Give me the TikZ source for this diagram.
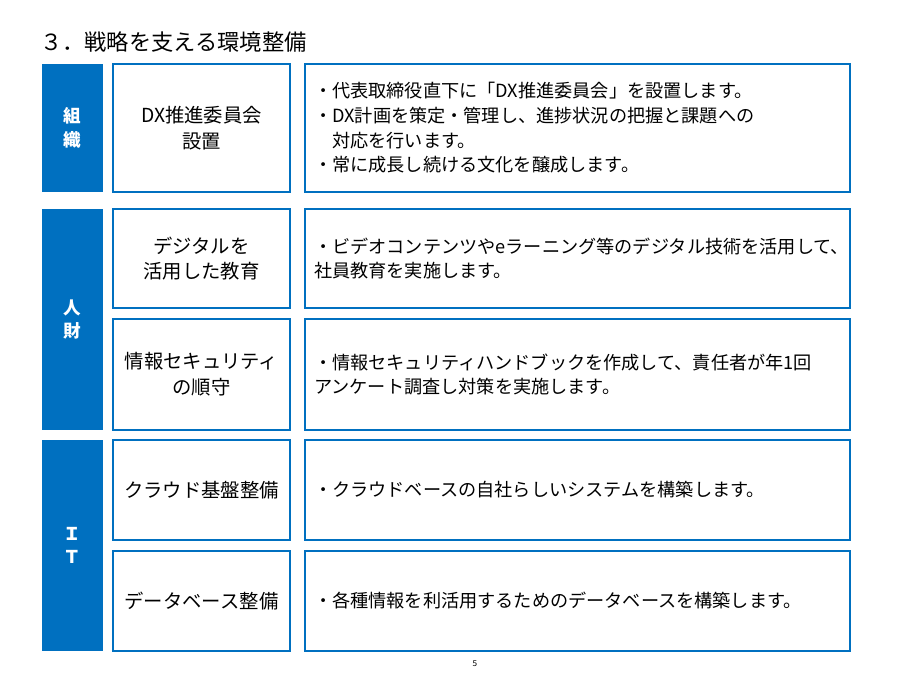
\documentclass[tikz,border=0pt]{standalone}
\usepackage{fontspec}
\setmainfont{Noto Sans CJK JP}
\definecolor{dxblue}{HTML}{0070C0}
\begin{document}
\begin{tikzpicture}[x=0.03cm,y=-0.03cm,
  pillar/.style={fill=dxblue,draw=none,text=white,font=\bfseries\fontsize{15}{20}\selectfont,align=center},
  itembox/.style={draw=dxblue,line width=1.2pt,align=center,font=\fontsize{16.5}{22}\selectfont},
  detailbox/.style={draw=dxblue,line width=1.2pt,align=left,font=\fontsize{15}{20}\selectfont,inner sep=6pt}]
        \useasboundingbox (0,0) rectangle (900,675);
        \node (Title) at (36,42) [anchor=west,font=\fontsize{19}{22}\selectfont] {３．戦略を支える環境整備};

        \node (Porg) at (72.5,128)  [pillar,minimum width=61*0.03cm,minimum height=128*0.03cm] {組\\織};
        \node (Phr)  at (72.5,319.5)[pillar,minimum width=61*0.03cm,minimum height=221*0.03cm] {人\\財};
        \node (Pit)  at (72.5,545.5)[pillar,minimum width=61*0.03cm,minimum height=211*0.03cm] {Ｉ\\Ｔ};

        \node (Iorg)  at (201.5,128)  [itembox,minimum width=177*0.03cm,minimum height=128*0.03cm] {DX推進委員会\\設置};
        \node (Iedu)  at (201.5,258.5)[itembox,minimum width=177*0.03cm,minimum height=99*0.03cm] {デジタルを\\活用した教育};
        \node (Isec)  at (201.5,374.5)[itembox,minimum width=177*0.03cm,minimum height=111*0.03cm] {情報セキュリティ\\の順守};
        \node (Icld)  at (201.5,490)  [itembox,minimum width=177*0.03cm,minimum height=100*0.03cm] {クラウド基盤整備};
        \node (Idb)   at (201.5,601)  [itembox,minimum width=177*0.03cm,minimum height=100*0.03cm] {データベース整備};

        \draw[itembox] (305,64) rectangle (850,192);
        \draw[itembox] (305,209) rectangle (850,308);
        \draw[itembox] (305,319) rectangle (850,430);
        \draw[itembox] (305,440) rectangle (850,540);
        \draw[itembox] (305,551) rectangle (850,651);

        \node (Dorg) at (310,128)   [anchor=west,align=left,font=\fontsize{15.5}{21}\selectfont]
              {・代表取締役直下に「DX推進委員会」を設置します。\\・DX計画を策定・管理し、進捗状況の把握と課題への\\　対応を行います。\\・常に成長し続ける文化を醸成します。};
        \node (Dedu) at (310,258.5) [anchor=west,align=left,font=\fontsize{15.5}{21}\selectfont]
              {・ビデオコンテンツやeラーニング等のデジタル技術を活用して、\\社員教育を実施します。};
        \node (Dsec) at (310,374.5) [anchor=west,align=left,font=\fontsize{15.5}{21}\selectfont]
              {・情報セキュリティハンドブックを作成して、責任者が年1回\\アンケート調査し対策を実施します。};
        \node (Dcld) at (310,490)   [anchor=west,font=\fontsize{15.5}{21}\selectfont] {・クラウドベースの自社らしいシステムを構築します。};
        \node (Ddb)  at (310,601)   [anchor=west,font=\fontsize{15.5}{21}\selectfont] {・各種情報を利活用するためのデータベースを構築します。};

        \node (Page) at (475,664) [font=\scriptsize] {5};
\end{tikzpicture}
\end{document}
